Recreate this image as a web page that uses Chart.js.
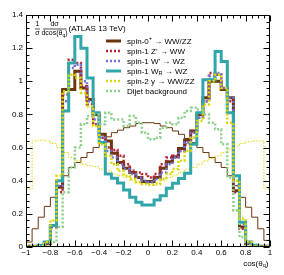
<!DOCTYPE html>
<html><head><meta charset="utf-8">
<script src="https://cdn.jsdelivr.net/npm/chart.js@4.4.1/dist/chart.umd.min.js"></script>
<style>html,body{margin:0;padding:0;background:#fff;overflow:hidden}</style>
</head><body>
<canvas id="c" width="284" height="275"></canvas>
<script>
// ---- data ----
const binEdges = [-1,-0.95,-0.9,-0.85,-0.8,-0.75,-0.7,-0.65,-0.6,-0.55,-0.5,-0.45,-0.4,-0.35,-0.3,-0.25,-0.2,-0.15,-0.1,-0.05,0,0.05,0.1,0.15,0.2,0.25,0.3,0.35,0.4,0.45,0.5,0.55,0.6,0.65,0.7,0.75,0.8,0.85,0.9,0.95,1];
const spin0 = [0.005,0.005,0.005,0.02,0.13,0.36,0.95,0.95,1.06,0.96,0.89,0.80,0.68,0.64,0.565,0.51,0.475,0.45,0.42,0.395,
               0.395,0.42,0.475,0.515,0.545,0.595,0.645,0.70,0.80,0.90,1.00,1.00,0.95,0.90,0.34,0.12,0.02,0.005,0.005,0.005];
const spin1Zp = [0.005,0.005,0.005,0.02,0.12,0.33,0.92,1.13,1.11,0.97,0.86,0.74,0.66,0.60,0.585,0.55,0.50,0.46,0.45,0.44,
                 0.42,0.44,0.50,0.54,0.55,0.58,0.62,0.70,0.78,0.88,1.05,1.04,0.96,0.88,0.33,0.11,0.02,0.005,0.005,0.005];
const spin1Wp = [0.005,0.005,0.005,0.03,0.13,0.37,0.88,1.08,1.10,1.00,0.88,0.77,0.66,0.58,0.54,0.50,0.47,0.44,0.42,0.40,
                 0.39,0.41,0.45,0.50,0.54,0.58,0.63,0.69,0.78,0.88,1.03,1.05,0.96,0.90,0.37,0.14,0.03,0.005,0.005,0.005];
const spin1WR = [0,0,0.01,0.03,0.13,0.40,0.82,1.11,1.27,1.20,1.02,0.81,0.63,0.44,0.415,0.386,0.344,0.30,0.27,0.253,
                 0.253,0.284,0.31,0.354,0.384,0.414,0.445,0.62,0.81,1.01,1.01,1.18,1.12,0.81,0.43,0.15,0.03,0.01,0,0];
const spin2y = [0.005,0.005,0.005,0.03,0.16,0.43,0.94,1.04,1.02,0.93,0.85,0.73,0.62,0.55,0.50,0.46,0.43,0.41,0.39,0.38,
                0.375,0.38,0.41,0.44,0.47,0.52,0.58,0.66,0.76,0.86,1.00,1.04,0.96,0.75,0.40,0.17,0.03,0.005,0.005,0.005];
const dijet = [0,0,0,0.005,0.03,0.12,0.33,0.48,0.60,0.74,0.79,0.80,0.74,0.81,0.77,0.77,0.73,0.79,0.75,0.69,
               0.65,0.66,0.72,0.75,0.74,0.78,0.82,0.84,0.83,0.80,0.75,0.71,0.62,0.42,0.22,0.06,0.01,0,0,0];
const extraBrownThin = [0.03,0.11,0.18,0.245,0.30,0.37,0.43,0.48,0.51,0.54,0.57,0.60,0.635,0.665,0.69,0.705,0.72,0.73,0.745,0.75,
                        0.75,0.745,0.73,0.72,0.70,0.68,0.655,0.63,0.60,0.57,0.54,0.51,0.48,0.43,0.37,0.30,0.24,0.18,0.11,0.04];
const extraYellowThin = [0.35,0.64,0.645,0.64,0.625,0.60,0.57,0.54,0.52,0.50,0.49,0.485,0.47,0.46,0.44,0.43,0.42,0.40,0.39,0.385,
                         0.38,0.39,0.40,0.42,0.435,0.45,0.47,0.48,0.50,0.52,0.535,0.55,0.57,0.59,0.61,0.625,0.635,0.64,0.64,0.35];
const legendLabels = ["spin-0^+ \u2192 WW/ZZ","spin-1 Z' \u2192 WW","spin-1 W' \u2192 WZ","spin-1 W_R \u2192 WZ","spin-2 y \u2192 WW/ZZ","Dijet background"];
const xTickValues = [-1,-0.8,-0.6,-0.4,-0.2,0,0.2,0.4,0.6,0.8,1];
const xTickLabels = ["\u22121","\u22120.8","\u22120.6","\u22120.4","\u22120.2","0","0.2","0.4","0.6","0.8","1"];
const yTickValues = [0,0.2,0.4,0.6,0.8,1,1.2,1.4];
const yTickLabels = ["0","0.2","0.4","0.6","0.8","1","1.2","1.4"];
const xTitle = ["cos(\u03b8","_q",")"];

// ---- styles ----
const FONT = '"Liberation Sans", Arial, Helvetica, sans-serif';
const BROWN = 'rgb(108,54,14)', RED = 'rgb(178,38,52)', BLUE = 'rgb(112,112,212)', CYAN = 'rgb(48,166,170)', YELLOW = 'rgb(222,214,0)', GREEN = 'rgb(140,208,140)';

function hist(vals){
  const pts = vals.map((v,i)=>({x: binEdges[i], y: v}));
  pts.push({x: binEdges[vals.length], y: vals[vals.length-1]});
  return pts;
}
function ds(label, vals, color, width, dash, order, legend){
  return {label, data: hist(vals), borderColor: color, borderWidth: width, borderDash: dash, order,
          stepped: true, pointRadius: 0, fill: false, tension: 0, inLegend: legend, borderCapStyle:'butt', borderJoinStyle:'miter'};
}
const datasets = [
  ds(legendLabels[0], spin0, BROWN, 3, [], 6, true),
  ds(legendLabels[1], spin1Zp, RED, 2.5, [2,2], 5, true),
  ds(legendLabels[2], spin1Wp, BLUE, 2.5, [2,2], 4, true),
  ds(legendLabels[3], spin1WR, CYAN, 3, [], 3, true),
  ds(legendLabels[4], spin2y, YELLOW, 2.5, [2,2], 2, true),
  ds(legendLabels[5], dijet, GREEN, 2.5, [2,2], 1, true),
  ds('', extraBrownThin, BROWN, 1, [], 9, false),
  ds('', extraYellowThin, YELLOW, 1, [1.5,1.5], 8, false)
];

function drawRich(ctx, text, x, y, size, align){
  // text: '_X' => subscript char, '^X' => superscript char
  const parts = [];
  let i=0, buf='';
  while(i<text.length){
    const c=text[i];
    if((c==='_'||c==='^') && i+1<text.length){ if(buf){parts.push({t:buf,m:0});buf='';} parts.push({t:text[i+1],m:c==='_'?1:-1}); i+=2; }
    else {buf+=c;i++;}
  }
  if(buf) parts.push({t:buf,m:0});
  const fs = p => p.m===0 ? size : size*0.7;
  let w=0;
  for(const p of parts){ ctx.font = fs(p)+'px '+FONT; p.w = ctx.measureText(p.t).width; w+=p.w; }
  let cx = align==='right' ? x-w : align==='center' ? x-w/2 : x;
  ctx.textAlign='left'; ctx.textBaseline='middle';
  for(const p of parts){
    ctx.font = fs(p)+'px '+FONT;
    ctx.fillText(p.t, cx, y + (p.m===1 ? size*0.3 : p.m===-1 ? -size*0.35 : 0));
    cx += p.w;
  }
  return w;
}

const decor = {
  id:'decor',
  afterDatasetsDraw(chart){
    const {ctx, chartArea:a, scales:{x,y}} = chart;
    ctx.save();
    ctx.strokeStyle='#000'; ctx.lineWidth=1; ctx.setLineDash([]);
    const L=Math.round(a.left)+0.5, R=Math.round(a.right)-0.5, T=Math.round(a.top)+0.5, B=Math.round(a.bottom)-0.5;
    ctx.beginPath();
    ctx.rect(L,T,R-L,B-T);
    for(let k=0;k<=35;k++){
      const py=Math.round(y.getPixelForValue(k*0.04))+0.5; const len = k%5===0?6:3;
      ctx.moveTo(L,py); ctx.lineTo(L+len,py);
      ctx.moveTo(R,py); ctx.lineTo(R-len,py);
    }
    for(let k=0;k<=40;k++){
      const px=Math.round(x.getPixelForValue(-1+k*0.05))+0.5; const len = k%4===0?6:3;
      ctx.moveTo(px,B); ctx.lineTo(px,B-len);
      ctx.moveTo(px,T); ctx.lineTo(px,T+len);
    }
    ctx.stroke();
    // legend
    ctx.fillStyle='#000';
    let row=0;
    chart.data.datasets.forEach(d=>{
      if(!d.inLegend) return;
      const yy = 41 + row*10;
      ctx.beginPath();
      ctx.strokeStyle=d.borderColor; ctx.lineWidth=d.borderWidth; ctx.setLineDash(d.borderDash||[]);
      ctx.moveTo(106,yy); ctx.lineTo(121,yy); ctx.stroke();
      ctx.setLineDash([]);
      ctx.fillStyle='#000';
      drawRich(ctx, d.label, 127, yy+0.5, 8, 'left');
      row++;
    });
    // y title (fraction)
    ctx.strokeStyle='#000'; ctx.lineWidth=0.7;
    ctx.font='7px '+FONT; ctx.textAlign='center'; ctx.textBaseline='middle';
    ctx.fillText('1', 37.5, 24.5);
    ctx.fillText('\u03c3', 37.5, 33.5);
    ctx.beginPath(); ctx.moveTo(35,29); ctx.lineTo(40,29); ctx.stroke();
    ctx.fillText('d\u03c3', 54.5, 24.5);
    drawRich(ctx, 'dcos(\u03b8_q)', 54.5, 33.5, 7, 'center');
    ctx.beginPath(); ctx.moveTo(43,29); ctx.lineTo(66.5,29); ctx.stroke();
    drawRich(ctx, '(ATLAS 13 TeV)', 68.5, 29, 8, 'left');
    // x title
    drawRich(ctx, xTitle.join(''), 268.5, 263.5, 8, 'right');
    ctx.restore();
  }
};

new Chart(document.getElementById('c'), {
  type:'line',
  data:{datasets},
  options:{
    responsive:false, animation:false, events:[], devicePixelRatio:1,
    layout:{padding:{top:15,right:14,left:0,bottom:0}},
    plugins:{legend:{display:false}, tooltip:{enabled:false}},
    scales:{
      x:{type:'linear', min:-1, max:1,
         afterFit(s){ s.height = 28; },
         afterBuildTicks(s){ s.ticks = xTickValues.map(v=>({value:v})); },
         ticks:{callback:(v,i)=>xTickLabels[i], font:{size:8, family:FONT}, color:'#000', padding:1, maxRotation:0, autoSkip:false},
         grid:{display:false, drawTicks:false}, border:{display:false}},
      y:{type:'linear', min:0, max:1.4,
         afterFit(s){ s.width = 26; },
         afterBuildTicks(s){ s.ticks = yTickValues.map(v=>({value:v})); },
         ticks:{callback:(v,i)=>yTickLabels[i], font:{size:8, family:FONT}, color:'#000', padding:3, autoSkip:false},
         grid:{display:false, drawTicks:false}, border:{display:false}}
    }
  },
  plugins:[decor]
});
</script>
</body></html>
